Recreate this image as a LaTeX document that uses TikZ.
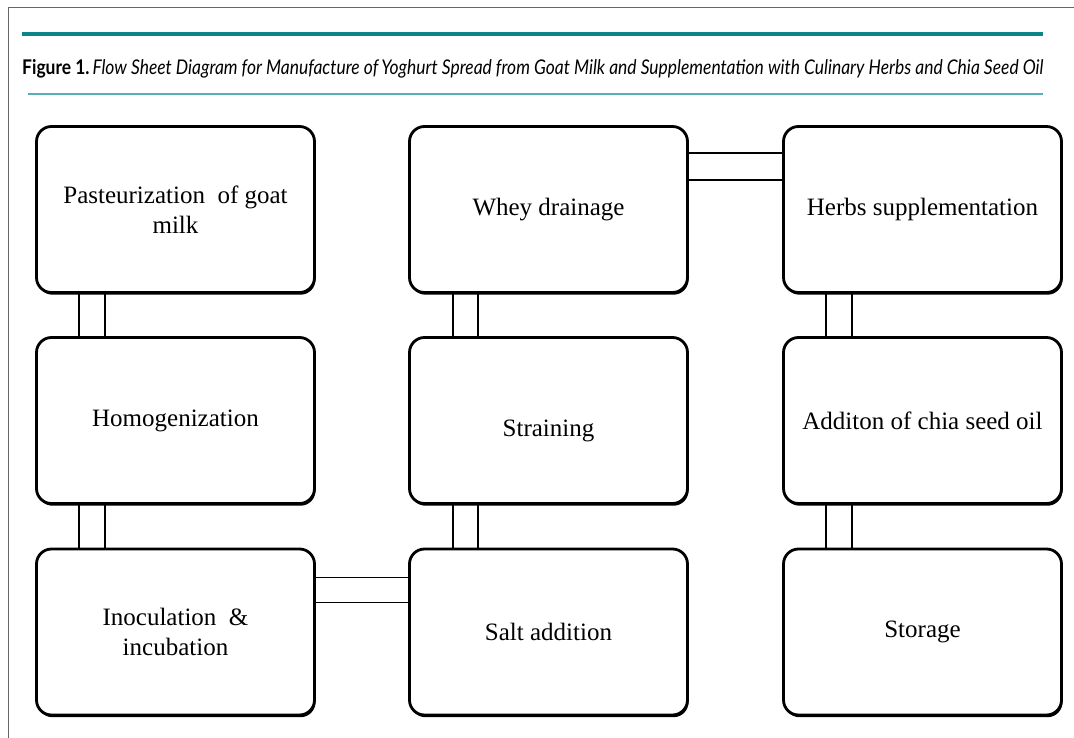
\documentclass[tikz,border=0pt]{standalone}
\usepackage{fontspec}
\setmainfont{Liberation Serif}
\newfontfamily\titlefont{Lato}
\usetikzlibrary{calc,shadows}
\definecolor{tealdark}{HTML}{0B8589}
\definecolor{teallight}{HTML}{5AAFB6}
\definecolor{framegray}{HTML}{666666}
\begin{document}
\begin{tikzpicture}[x=1pt,y=-1pt,
  stepbox/.style={draw=black, line width=2.8pt, rounded corners=15pt, fill=white,
    minimum width=278pt, minimum height=166pt, inner sep=0pt, outer sep=1.4pt,
    align=center, font=\fontsize{25}{30}\selectfont,
    drop shadow={shadow xshift=1pt, shadow yshift=-2.2pt, fill=black, opacity=1}},
  link/.style={draw=black, line width=1.6pt}]
\useasboundingbox (0,0) rectangle (1074,738);
% frame
\draw[framegray, line width=1pt] (8,738) -- (8,8) -- (1074,8);
% rules
\fill[tealdark] (22,32) rectangle (1043,36.5);
\draw[teallight, line width=1.5pt] (28,94) -- (1043,94);
\node[anchor=base west, inner sep=0pt, font=\titlefont\fontsize{17}{20}\selectfont] (title) at (22,75)
  {\resizebox{1021pt}{15pt}{\textbf{Figure 1.}\,\textit{Flow Sheet Diagram for Manufacture of\,Yoghurt Spread from Goat Milk and Supplementation with Culinary Herbs and Chia Seed Oil}}};
% boxes
\node[stepbox] (b1) at (175.5,209.5) {Pasteurization\ \ of goat\\milk};
\node[stepbox] (b2) at (175.5,420.5) {Homogenization};
\node[stepbox] (b3) at (175.5,632) {Inoculation\ \ \&\\incubation};
\node[stepbox] (b4) at (548.5,632) {Salt addition};
\node[stepbox] (b5) at (548.5,420.5) {\raisebox{-10pt}[\height][\depth]{Straining}};
\node[stepbox] (b6) at (548.5,209.5) {Whey drainage};
\node[stepbox] (b7) at (922.5,209.5) {Herbs supplementation};
\node[stepbox] (b8) at (922.5,420.5) {Additon of chia seed oil};
\node[stepbox] (b9) at (922.5,632) {Storage};
% vertical double connectors
\foreach \a/\b in {b1/b2,b2/b3,b7/b8,b8/b9}{
  \draw[link] ($(\a.south west)+(44,0)$) -- ($(\b.north west)+(44,0)$);
  \draw[link] ($(\a.south west)+(70,0)$) -- ($(\b.north west)+(70,0)$);
}
\foreach \a/\b in {b6/b5,b5/b4}{
  \draw[link] ($(\a.south west)+(45,0)$) -- ($(\b.north west)+(45,0)$);
  \draw[link] ($(\a.south west)+(70,0)$) -- ($(\b.north west)+(70,0)$);
}
% horizontal double connectors
\draw[link] ($(b3.north east)+(0,30)$) -- ($(b4.north west)+(0,30)$);
\draw[link] ($(b3.north east)+(0,55)$) -- ($(b4.north west)+(0,55)$);
\draw[link] ($(b6.north east)+(0,28)$) -- ($(b7.north west)+(0,28)$);
\draw[link] ($(b6.north east)+(0,55)$) -- ($(b7.north west)+(0,55)$);
\end{tikzpicture}
\end{document}
